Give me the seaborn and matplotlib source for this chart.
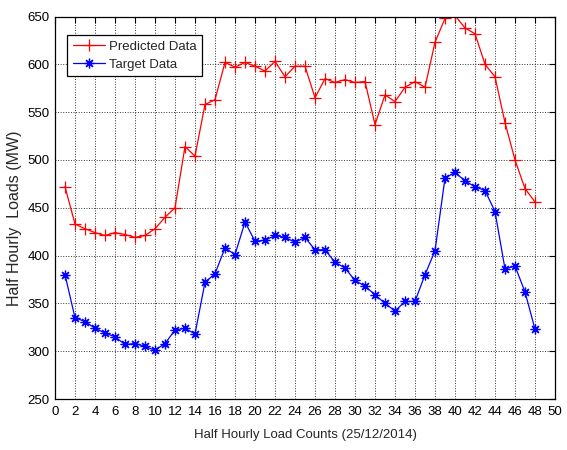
import numpy as np
import pandas as pd
import matplotlib
matplotlib.use("Agg")
import matplotlib.pyplot as plt
import seaborn as sns

# Half-hourly load counts for 25/12/2014
counts = list(range(1, 49))

predicted = [472, 433, 428, 424, 421, 424, 422, 419, 421, 428, 440, 450,
             514, 504, 558, 563, 602, 597, 602, 598, 593, 603, 587, 598,
             598, 565, 585, 581, 584, 581, 582, 537, 568, 561, 576, 582,
             576, 623, 648, 651, 638, 632, 600, 587, 539, 500, 470, 456]

target = [380, 335, 331, 324, 319, 315, 307, 308, 305, 301, 308, 322,
          324, 318, 372, 381, 408, 401, 435, 415, 416, 421, 419, 414,
          419, 406, 406, 393, 387, 374, 368, 359, 350, 342, 352, 352,
          380, 405, 481, 487, 478, 472, 468, 446, 386, 389, 362, 323]

x_ticks = list(range(0, 51, 2))
y_ticks = list(range(250, 651, 50))

sns.set_style("white")
fam = ["Liberation Sans", "DejaVu Sans"]
plt.rcParams["font.family"] = fam

fig = plt.figure(figsize=(5.67, 4.5), dpi=100)
ax = fig.add_axes([55 / 567, 1 - 399 / 450, 500 / 567, (399 - 16.5) / 450])

df = pd.DataFrame({"count": counts, "Predicted Data": predicted, "Target Data": target})

sns.lineplot(data=df, x="count", y="Predicted Data", ax=ax, color="red",
             marker="+", markersize=9, markeredgewidth=0.9,
             markeredgecolor="red", markerfacecolor="red", linewidth=0.9,
             label="Predicted Data")
sns.lineplot(data=df, x="count", y="Target Data", ax=ax, color="blue",
             marker=(8, 2, 0), markersize=7, markeredgewidth=0.9,
             markeredgecolor="blue", markerfacecolor="blue", linewidth=0.9,
             label="Target Data")

ax.set_xlim(0, 50)
ax.set_ylim(250, 650)
ax.set_xticks(x_ticks)
ax.set_yticks(y_ticks)
ax.tick_params(direction="in", top=True, right=True, length=4, width=0.8,
               labelsize=9.5, colors="black")
ax.tick_params(axis="x", pad=5)
ax.tick_params(axis="y", pad=4)

ax.grid(True, color="black", linestyle=":", linewidth=0.7, alpha=0.8)
for s in ax.spines.values():
    s.set_color("black")
    s.set_linewidth(0.9)

ax.set_xlabel("Half Hourly Load Counts (25/12/2014)", fontsize=9.5, labelpad=8)
ax.set_ylabel("Half Hourly  Loads (MW)", fontsize=11.5)
ax.yaxis.set_label_coords(-0.066, 0.473)

leg = ax.legend(loc="upper left", bbox_to_anchor=(0.024, 0.952), fontsize=9.5,
                frameon=True, fancybox=False, framealpha=1, edgecolor="black",
                borderpad=0.45, borderaxespad=0, handlelength=2.4,
                handletextpad=0.3, labelspacing=0.4)
leg.get_frame().set_linewidth(0.9)

fig.savefig("out.png", dpi=100)
